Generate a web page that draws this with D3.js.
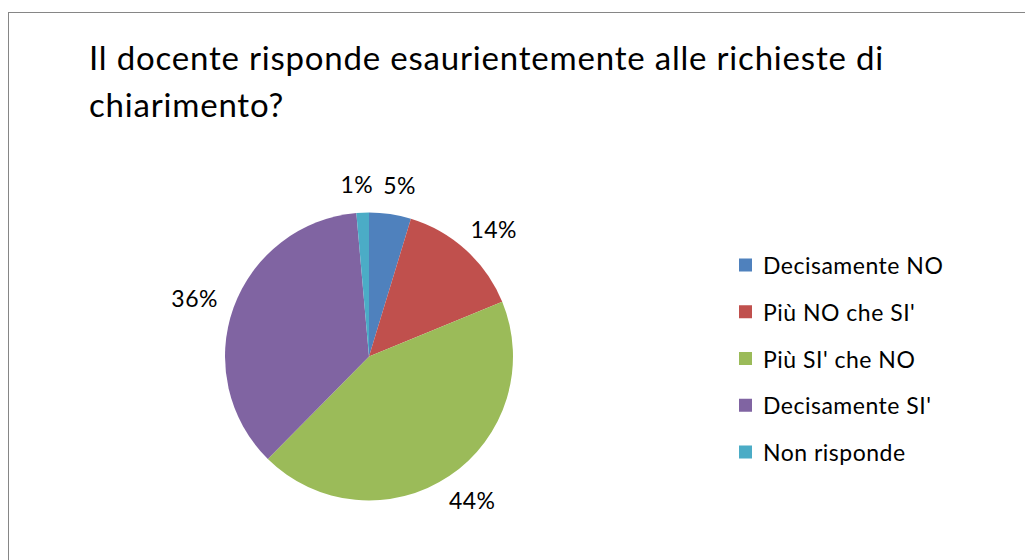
<!DOCTYPE html>
<html><head><meta charset="utf-8">
<script src="https://cdn.jsdelivr.net/npm/d3@7/dist/d3.min.js"></script>
<style>html,body{margin:0;padding:0;background:#fff;}svg{display:block;}</style>
</head><body>
<svg id="c" width="1025" height="560"></svg>
<script>
const titleLines = ["Il docente risponde esaurientemente alle richieste di", "chiarimento?"];
const categories = ["Decisamente NO", "Più NO che SI'", "Più SI' che NO", "Decisamente SI'", "Non risponde"];
const values = [4.7, 14.1, 43.6, 36.2, 1.4];
const colors = ["#4F81BD", "#C0504D", "#9BBB59", "#8064A2", "#4BACC6"];

const svg = d3.select("#c");
const font = "Lato, 'Open Sans', sans-serif";

svg.append("rect").attr("x", 8.5).attr("y", 12.5).attr("width", 1100).attr("height", 600)
  .attr("fill", "#fff").attr("stroke", "#868686").attr("stroke-width", 1);

svg.append("g").selectAll("text").data(titleLines).join("text")
  .attr("x", 89).attr("y", (d, i) => 70 + i * 47)
  .attr("font-family", font).attr("font-size", 33).attr("letter-spacing", 0.8).attr("fill", "#000")
  .text(d => d);

const cx = 369, cy = 356.5, r = 144;
const pie = d3.pie().sort(null).value(d => d);
const arcs = pie(values);
const arc = d3.arc().innerRadius(0).outerRadius(r);
const g = svg.append("g").attr("transform", `translate(${cx},${cy})`);
g.selectAll("path").data(arcs).join("path")
  .attr("d", arc).attr("fill", (d, i) => colors[i]);

const total = d3.sum(values);
const fs = 23;
const labels = g.selectAll("text.lbl").data(arcs).join("text").attr("class", "lbl")
  .attr("font-family", font).attr("font-size", fs).attr("letter-spacing", 0.5).attr("fill", "#000")
  .attr("text-anchor", "middle").attr("dominant-baseline", "central")
  .text(d => Math.round(d.value / total * 100) + "%");
labels.each(function(d) {
  const w = this.getComputedTextLength();
  const h = 22;
  const a = (d.startAngle + d.endAngle) / 2;
  const s = Math.sin(a), c = Math.cos(a);
  const R = r + 18;
  d.lx = R * s + s * w / 2; d.ly = -R * c - c * h / 2; d.w = w;
});
// simple collision nudge between neighbouring labels
const L = labels.data();
for (let i = 0; i < L.length; i++) {
  for (let j = 0; j < L.length; j++) {
    if (i === j) continue;
    const A = L[i], B = L[j];
    if (Math.abs(A.ly - B.ly) < 18 && Math.abs(A.lx - B.lx) < (A.w + B.w) / 2 + 10) {
      const need = (A.w + B.w) / 2 + 10 - Math.abs(A.lx - B.lx);
      if (A.lx < B.lx) { A.lx -= need / 2; B.lx += need / 2; }
    }
  }
}
labels.attr("x", d => d.lx).attr("y", d => d.ly);

const lg = svg.append("g").attr("transform", "translate(739,0)");
const ly = d3.scalePoint().domain(categories).range([265, 452]);
lg.selectAll("rect").data(categories).join("rect")
  .attr("x", 0).attr("y", d => ly(d) - 6.5).attr("width", 13).attr("height", 13)
  .attr("fill", (d, i) => colors[i]);
lg.selectAll("text").data(categories).join("text")
  .attr("x", 24).attr("y", d => ly(d)).attr("dominant-baseline", "central")
  .attr("font-family", font).attr("font-size", fs).attr("letter-spacing", 0.5).attr("fill", "#000")
  .text(d => d);
</script>
</body></html>
